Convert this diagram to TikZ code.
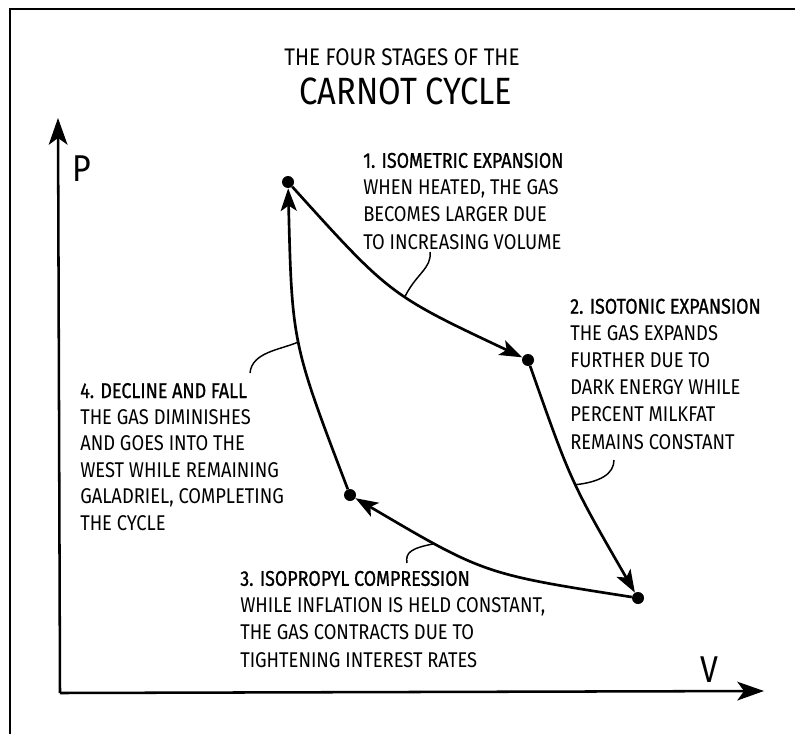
\documentclass[tikz,border=0pt]{standalone}
\usepackage{fontspec}
\setmainfont{Fira Sans}[FakeStretch=0.86]
\newfontfamily\headfont{Fira Sans}[FakeStretch=0.84,FakeBold=0.9]
\usetikzlibrary{arrows.meta}
\begin{document}
\begin{tikzpicture}[x=0.75pt,y=-0.75pt,
  frameline/.style={line width=2.2pt},
  axis/.style={line width=1.9pt,-{Stealth[length=20pt,width=14pt,inset=5pt]}},
  cyc/.style={line width=2pt,-{Stealth[length=17pt,width=12pt,inset=4pt]}},
  dot/.style={circle,fill=black,inner sep=0pt,minimum size=9pt},
  callout/.style={line width=1.1pt},
  body/.style={anchor=base west,inner sep=0pt,align=left,font=\fontsize{16}{20.3}\selectfont},
  ttl/.style={anchor=base,inner sep=0pt}]
\useasboundingbox (0,0) rectangle (795,734);
% frame
\draw[frameline] (10,736) -- (10,9) -- (797,9);
% title
\node[ttl,font=\fontsize{18}{20}\selectfont] (t1) at (402,66) {THE FOUR STAGES OF THE};
\node[ttl,font=\fontsize{28.5}{30}\selectfont] (t2) at (406,105) {CARNOT CYCLE};
% axes
\coordinate (O) at (60,693);
\coordinate (Ptop) at (58,118);
\coordinate (Vend) at (764,691);
\draw[axis] (O) -- (Ptop);
\draw[axis] (O) -- (Vend);
\node[anchor=base west,inner sep=0pt,font=\fontsize{28}{30}\selectfont] (P) at (72,182) {P};
\node[anchor=base west,inner sep=0pt,font=\fontsize{28}{30}\selectfont] (V) at (700,682) {V};
% states
\node[dot] (A) at (288,182) {};
\node[dot] (B) at (528,360) {};
\node[dot] (C) at (638,598) {};
\node[dot] (D) at (350,495) {};
% cycle
\draw[cyc] (A) .. controls (390,295) .. coordinate[pos=0.56] (m1) (B);
\draw[cyc] (B) .. controls (571,482) .. coordinate[pos=0.52] (m2) (C);
\draw[cyc] (C) .. controls (484,574) .. coordinate[pos=0.74] (m3) (D);
\draw[cyc] (D) .. controls (292,343) .. coordinate[pos=0.5] (m4) (A);
% callouts
\coordinate (k1) at (430,252);
\coordinate (k2) at (614,460);
\coordinate (k3) at (407,563);
\coordinate (k4) at (250,373);
\draw[callout] (k1) .. controls (432,268) and (416,274) .. (m1);
\draw[callout] (k2) .. controls (614,474) and (600,482) .. (m2);
\draw[callout] (m3) .. controls (412,548) and (405,552) .. (k3);
\draw[callout] (k4) .. controls (252,352) and (280,350) .. (m4);
% texts (anchor = baseline of the last line)
\node[body] (s1) at (363,249) {{\headfont 1. ISOMETRIC EXPANSION}\\WHEN HEATED, THE GAS\\BECOMES LARGER DUE\\TO INCREASING VOLUME};
\node[body] (s2) at (570,449) {{\headfont 2. ISOTONIC EXPANSION}\\THE GAS EXPANDS\\FURTHER DUE TO\\DARK ENERGY WHILE\\PERCENT MILKFAT\\REMAINS CONSTANT};
\node[body] (s3) at (240,667) {{\headfont 3. ISOPROPYL COMPRESSION}\\WHILE INFLATION IS HELD CONSTANT,\\THE GAS CONTRACTS DUE TO\\TIGHTENING INTEREST RATES};
\node[body,font=\fontsize{16}{19.8}\selectfont] (s4) at (80,530) {{\headfont 4. DECLINE AND FALL}\\THE GAS DIMINISHES\\AND GOES INTO THE\\WEST WHILE REMAINING\\GALADRIEL, COMPLETING\\THE CYCLE};
\end{tikzpicture}
\end{document}
